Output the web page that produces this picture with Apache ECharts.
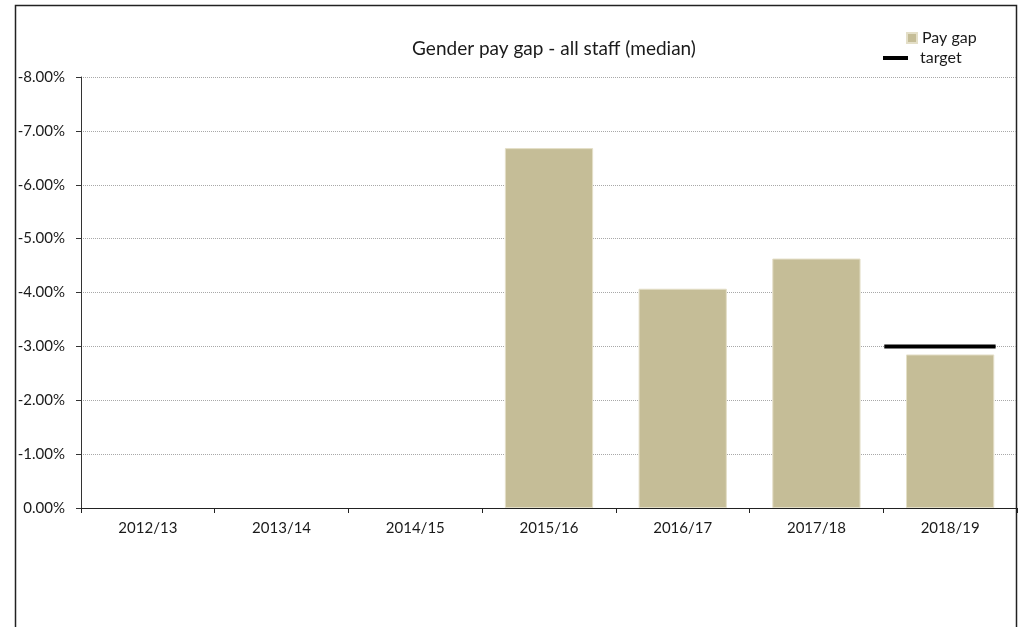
<!DOCTYPE html>
<html>
<head>
<meta charset="utf-8">
<title>Gender pay gap - all staff (median)</title>
<script src="https://cdn.jsdelivr.net/npm/echarts@6/dist/echarts.min.js"></script>
<style>
  html, body { margin: 0; padding: 0; background: #fff; }
  #chart { width: 1027px; height: 627px; }
</style>
</head>
<body>
<div id="chart"></div>
<script>
// data
const categories = ['2012/13', '2013/14', '2014/15', '2015/16', '2016/17', '2017/18', '2018/19']
const payGap = [null, null, null, -6.68, -4.07, -4.63, -2.85]
const target = [null, null, null, null, null, null, -3.0]

const FONT = 'Lato, "Open Sans", sans-serif'
const TEXT = '#1a1a1a'
const BAR = '#c5bd97'

const chart = echarts.init(document.getElementById('chart'))

const targetData = target
  .map((v, i) => [i, v])
  .filter((d) => d[1] != null)

chart.setOption({
  backgroundColor: '#fff',
  animation: false,
  title: {
    text: 'Gender pay gap - all staff (median)',
    left: 549,
    textAlign: 'center',
    top: 34,
    textStyle: { fontFamily: FONT, fontSize: 19, fontWeight: 'normal', color: TEXT, lineHeight: 20 },
  },
  legend: [
    {
      data: [{ name: 'Pay gap', icon: 'rect' }],
      left: 901,
      top: 25,
      itemWidth: 10,
      itemHeight: 10,
      textStyle: { fontFamily: FONT, fontSize: 16, color: TEXT, lineHeight: 16 },
    },
    {
      data: [{ name: 'target', icon: 'rect' }],
      left: 878,
      top: 45,
      itemWidth: 25,
      itemHeight: 4,
      textStyle: { fontFamily: FONT, fontSize: 16, color: TEXT, lineHeight: 16, padding: [0, 0, 0, 7] },
    },
  ],
  grid: { left: 81, right: 10, top: 77, bottom: 119, containLabel: false },
  xAxis: {
    type: 'category',
    data: categories,
    axisLine: { lineStyle: { color: '#222', width: 1 } },
    axisTick: { show: true, length: 5, lineStyle: { color: '#222' } },
    axisLabel: { fontFamily: FONT, fontSize: 15, color: TEXT, margin: 13 },
  },
  yAxis: {
    type: 'value',
    inverse: true,
    min: -8,
    max: 0,
    interval: 1,
    axisLine: { show: true, lineStyle: { color: '#333', width: 1 } },
    axisTick: { show: true, length: 5, lineStyle: { color: '#333' } },
    axisLabel: {
      fontFamily: FONT,
      fontSize: 15,
      color: TEXT,
      margin: 16,
      formatter: (v) => v.toFixed(2) + '%',
    },
    splitLine: { show: true, lineStyle: { color: '#a8a8a8', type: 'dotted', width: 1 } },
  },
  graphic: [
    {
      type: 'rect',
      shape: { x: 15.5, y: 5.5, width: 1001, height: 640 },
      style: { fill: 'none', stroke: '#222', lineWidth: 1.5 },
      silent: true,
      z: -1,
    },
  ],
  series: [
    {
      name: 'Pay gap',
      type: 'bar',
      data: payGap.map((v) => (v == null ? '-' : v)),
      barWidth: '66%',
      itemStyle: { color: BAR, borderColor: '#e4dfc8', borderWidth: 1 },
    },
    {
      name: 'target',
      type: 'custom',
      data: targetData,
      itemStyle: { color: '#000' },
      renderItem: (params, api) => {
        const pt = api.coord([api.value(0), api.value(1)])
        const band = api.size([1, 0])[0]
        return {
          type: 'line',
          shape: {
            x1: pt[0] - band / 2 + 1,
            y1: pt[1],
            x2: pt[0] + band * 0.34,
            y2: pt[1],
          },
          style: { stroke: '#000', lineWidth: 4 },
        }
      },
    },
  ],
})
</script>
</body>
</html>
